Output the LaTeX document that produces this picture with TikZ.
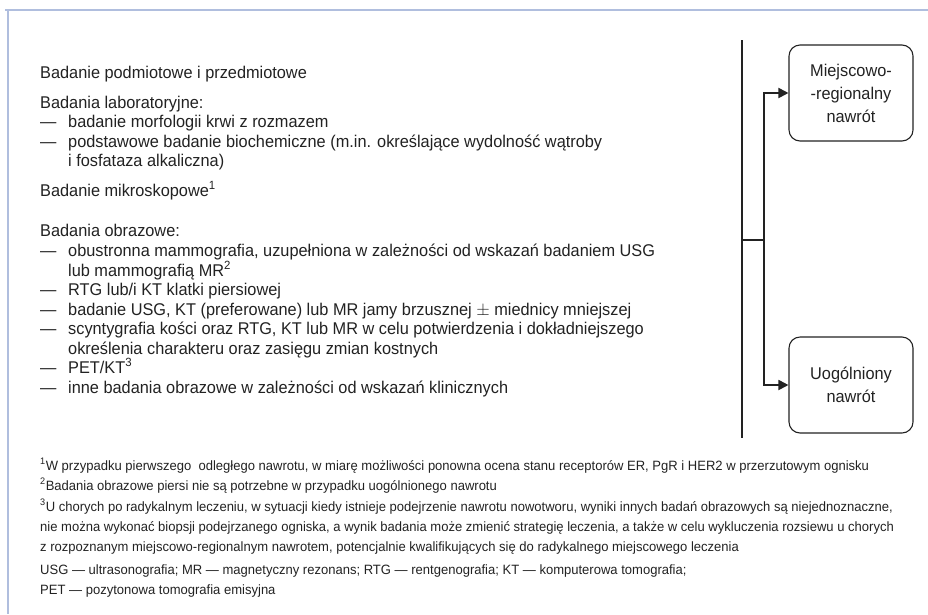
\documentclass[tikz,border=0pt]{standalone}
\usepackage{fontspec}
\setmainfont{Liberation Sans}[FakeStretch=0.96]
\newfontfamily\fnfont{Liberation Sans}[FakeStretch=0.965]
\usetikzlibrary{arrows.meta}
\definecolor{framecol}{RGB}{176,190,222}
\definecolor{ink}{RGB}{34,34,34}
\begin{document}
\begin{tikzpicture}[x=1pt,y=-1pt,
  txt/.style={anchor=base west,inner sep=0pt,font=\fontsize{17}{19}\selectfont,text=ink},
  fn/.style={anchor=base west,inner sep=0pt,font=\fnfont\fontsize{13.5}{15}\selectfont,text=ink},
  box/.style={draw=ink,line width=1.1pt,rounded corners=11pt,minimum width=124pt,minimum height=96pt,align=center,font=\fontsize{17}{23}\selectfont,text=ink},
  conn/.style={draw=ink,line width=1.8pt},
  arr/.style={draw=ink,line width=1.8pt,-{Triangle[length=10pt,width=10pt]}},
  frame/.style={draw=framecol,line width=1.2pt}]
\useasboundingbox (0,0) rectangle (928,614);
\draw[frame] (5,10) -- (928,10);
\draw[frame] (8,10) -- (8,614);
% left column
\newcommand\dashtxt{\makebox[28pt][l]{—}}
\node[txt] (t1) at (40,78) {Badanie podmiotowe i przedmiotowe};
\node[txt] (t2) at (40,108) {Badania laboratoryjne:};
\node[txt] (t3) at (40,127) {\dashtxt badanie morfologii krwi z rozmazem};
\node[txt] (t4) at (40,147) {\dashtxt podstawowe badanie biochemiczne (m.in. określające wydolność wątroby};
\node[txt] (t5) at (68,166) {i fosfataza alkaliczna)};
\node[txt] (t6) at (40,196) {Badanie mikroskopowe\textsuperscript{1}};
\node[txt] (t7) at (40,236) {Badania obrazowe:};
\node[txt] (t8) at (40,256) {\dashtxt obustronna mammografia, uzupełniona w zależności od wskazań badaniem USG};
\node[txt] (t9) at (68,276) {lub mammografią MR\textsuperscript{2}};
\node[txt] (t10) at (40,295) {\dashtxt RTG lub/i KT klatki piersiowej};
\node[txt] (t11) at (40,315) {\dashtxt badanie USG, KT (preferowane) lub MR jamy brzusznej $\pm$ miednicy mniejszej};
\node[txt] (t12) at (40,334) {\dashtxt scyntygrafia kości oraz RTG, KT lub MR w celu potwierdzenia i dokładniejszego};
\node[txt] (t13) at (68,354) {określenia charakteru oraz zasięgu zmian kostnych};
\node[txt] (t14) at (40,373) {\dashtxt PET/KT\textsuperscript{3}};
\node[txt] (t15) at (40,393) {\dashtxt inne badania obrazowe w zależności od wskazań klinicznych};
% footnotes
\node[fn] (f1) at (40,470) {\textsuperscript{1}W przypadku pierwszego\ \ odległego nawrotu, w miarę możliwości ponowna ocena stanu receptorów ER, PgR i HER2 w przerzutowym ognisku};
\node[fn] (f2) at (40,490) {\textsuperscript{2}Badania obrazowe piersi nie są potrzebne w przypadku uogólnionego nawrotu};
\node[fn] (f3) at (40,511) {\textsuperscript{3}U chorych po radykalnym leczeniu, w sytuacji kiedy istnieje podejrzenie nawrotu nowotworu, wyniki innych badań obrazowych są niejednoznaczne,};
\node[fn] (f4) at (40,531) {nie można wykonać biopsji podejrzanego ogniska, a wynik badania może zmienić strategię leczenia, a także w celu wykluczenia rozsiewu u chorych};
\node[fn] (f5) at (40,551) {z rozpoznanym miejscowo-regionalnym nawrotem, potencjalnie kwalifikujących się do radykalnego miejscowego leczenia};
\node[fn] (f6) at (40,574) {USG — ultrasonografia; MR — magnetyczny rezonans; RTG — rentgenografia; KT — komputerowa tomografia;};
\node[fn] (f7) at (40,594) {PET — pozytonowa tomografia emisyjna};
% right part
\node[box] (b1) at (851,93) {Miejscowo-\\-regionalny\\nawrót};
\node[box] (b2) at (851,385) {Uogólniony\\nawrót};
\coordinate (vtop) at (742,40);
\coordinate (vbot) at (742,438);
\coordinate (split) at (742,240);
\coordinate (mid) at (764,240);
\draw[conn] (vtop) -- (vbot);
\draw[conn] (split) -- (mid);
\draw[arr] (mid) |- (b1.west);
\draw[arr] (mid) |- (b2.west);
\end{tikzpicture}
\end{document}
